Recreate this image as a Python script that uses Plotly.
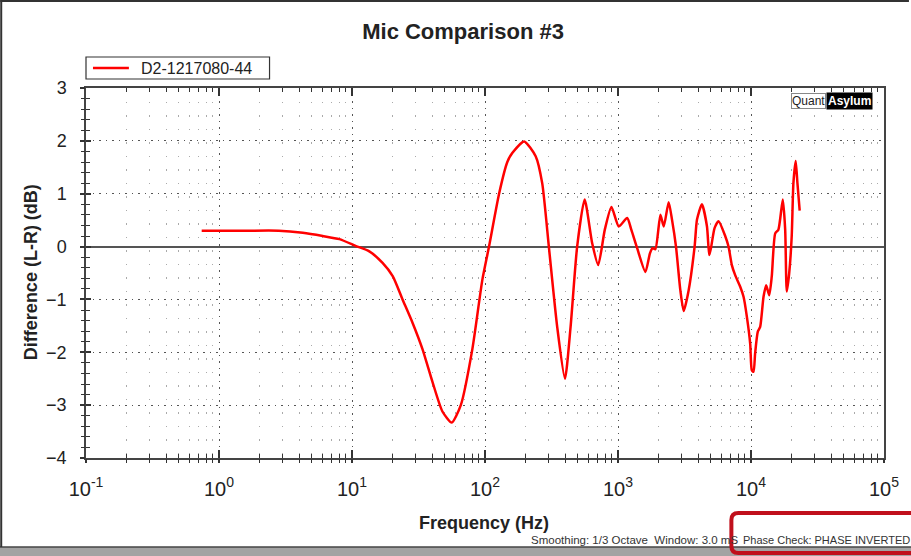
import plotly.graph_objects as go

# ---------------- data ----------------
freq_hz = [0.741, 1.585, 2.818, 4.266, 6.026, 8.04, 10.72, 13.49, 16.98, 20.23,
           23.99, 28.51, 33.88, 40.27, 47.86, 56.23, 65.77, 80.35, 95.5, 107.2,
           127.6, 147.2, 160.3, 196.8, 240.4, 269.2, 302, 349, 399, 440,
           493, 561, 640, 710, 796, 893, 1014, 1172, 1259, 1393,
           1607, 1738, 1820, 1910, 2084, 2208, 2404, 2547, 2729, 2944,
           3119, 3396, 3767, 3926, 4276, 4667, 4853, 5023, 5321, 5702,
           6397, 6776, 7178, 7603, 8299, 8790, 9311, 9863, 10140, 10450,
           10740, 11250, 11720, 12420, 13000, 13710, 14320, 15210, 16070, 17340,
           18070, 18580, 19360, 20230, 20840, 21680, 22340, 23230]
diff_db = [0.30, 0.30, 0.30, 0.26, 0.20, 0.14, 0.01, -0.09, -0.31, -0.56,
           -1.00, -1.44, -1.94, -2.56, -3.12, -3.33, -3.00, -1.94, -0.63, 0.00,
           1.00, 1.60, 1.77, 1.99, 1.71, 1.20, 0.00, -1.52, -2.50, -1.52,
           0.00, 0.89, 0.06, -0.35, 0.32, 0.75, 0.38, 0.54, 0.32, -0.03,
           -0.48, -0.13, -0.03, -0.05, 0.60, 0.38, 0.84, 0.51, 0.00, -0.83,
           -1.22, -0.83, 0.00, 0.51, 0.80, 0.38, -0.16, 0.00, 0.35, 0.48,
           0.20, 0.00, -0.35, -0.54, -0.76, -0.95, -1.33, -1.84, -2.34, -2.37,
           -2.02, -1.61, -1.52, -0.95, -0.73, -0.92, -0.57, 0.25, 0.32, 0.89,
           0.32, -0.85, -0.51, 0.19, 1.20, 1.62, 1.20, 0.68]

series_name = "D2-1217080-44"
x_tick_vals = [0.1, 1, 10, 100, 1000, 10000, 100000]
x_tick_text = ["10<sup>-1</sup>", "10<sup>0</sup>", "10<sup>1</sup>", "10<sup>2</sup>",
               "10<sup>3</sup>", "10<sup>4</sup>", "10<sup>5</sup>"]
x_minor_vals = [m * d for d in [0.1, 1, 10, 100, 1000, 10000] for m in range(2, 10)]
y_tick_vals = [3, 2, 1, 0, -1, -2, -3, -4]

FONT = "Arial, Liberation Sans, sans-serif"
RED = "#ff0000"

fig = go.Figure()
fig.add_trace(go.Scatter(
    x=freq_hz, y=diff_db, mode="lines", name=series_name, showlegend=False,
    line=dict(color=RED, width=2.5, shape="spline", smoothing=0.6),
))
# helper trace for the second (overlay) axes that carry the outside half of ticks
fig.add_trace(go.Scatter(x=[1], y=[0], xaxis="x2", yaxis="y2", mode="lines",
                         showlegend=False, hoverinfo="skip", line=dict(width=0)))

W, H = 911, 556
L, R, T, B = 86, 25, 88, 98
pw, ph = W - L - R, H - T - B


def px(xp):
    return (xp - L) / pw


def py(yp):
    return (H - B - yp) / ph


fig.update_layout(
    width=W, height=H,
    margin=dict(l=L, r=R, t=T, b=B),
    paper_bgcolor="white", plot_bgcolor="white",
    font=dict(family=FONT, color="#222"),
    title=dict(text="Mic Comparison #3", x=px(464), xref="paper", xanchor="center",
               y=1 - 31 / H, yanchor="middle",
               font=dict(family=FONT, size=22, color="#222", weight="bold")),
    showlegend=False,
    xaxis=dict(
        type="log", range=[-1, 5], showline=True, linecolor="#444", linewidth=1.5,
        mirror="ticks", ticks="inside", ticklen=8, tickwidth=1.5, tickcolor="#333",
        tickvals=x_tick_vals, ticktext=x_tick_text,
        tickfont=dict(family=FONT, size=20, color="#222"), ticklabelstandoff=12,
        showgrid=True, gridcolor="#555", gridwidth=1, griddash="1.5px,5px",
        minor=dict(tickmode="array", tickvals=x_minor_vals, ticks="inside", ticklen=4,
                   tickwidth=1, tickcolor="#333", showgrid=True, gridcolor="#aaa",
                   gridwidth=1, griddash="1.5px,12px"),
        zeroline=False,
    ),
    yaxis=dict(
        range=[-4, 3], showline=True, linecolor="#444", linewidth=1.5, mirror=True,
        ticks="inside", ticklen=5, tickwidth=1.5, tickcolor="#333",
        tickvals=y_tick_vals, tickfont=dict(family=FONT, size=18, color="#222"),
        ticklabelstandoff=14,
        showgrid=True, gridcolor="#555", gridwidth=1, griddash="1.5px,5px",
        minor=dict(dtick=0.2, ticks="inside", ticklen=4, tickwidth=1, tickcolor="#333",
                   showgrid=False),
        zeroline=True, zerolinecolor="#555", zerolinewidth=2,
    ),
    xaxis2=dict(
        type="log", range=[-1, 5], overlaying="x", anchor="y2", side="bottom",
        showline=False, ticks="outside", ticklen=4, tickwidth=1.5, tickcolor="#333",
        tickvals=x_tick_vals, showticklabels=False, showgrid=False, zeroline=False,
        minor=dict(tickmode="array", tickvals=x_minor_vals, ticks="outside", ticklen=4,
                   tickwidth=1, tickcolor="#333", showgrid=False),
    ),
    yaxis2=dict(
        range=[-4, 3], overlaying="y", anchor="x2", side="left",
        showline=False, ticks="outside", ticklen=5, tickwidth=1.5, tickcolor="#333",
        tickvals=y_tick_vals, showticklabels=False, showgrid=False, zeroline=False,
        minor=dict(dtick=0.2, ticks="outside", ticklen=4, tickwidth=1, tickcolor="#333",
                   showgrid=False),
    ),
)

ann = [
    dict(text="<b>Frequency (Hz)</b>", x=px(485), y=py(523), xref="paper", yref="paper",
         xanchor="center", yanchor="middle", showarrow=False,
         font=dict(family=FONT, size=18, color="#222")),
    dict(text="<b>Difference (L-R) (dB)</b>", x=px(31), y=py(272), xref="paper", yref="paper",
         xanchor="center", yanchor="middle", showarrow=False, textangle=-90,
         font=dict(family=FONT, size=18, color="#222")),
    dict(text=series_name, x=px(139), y=py(68.5), xref="paper", yref="paper",
         xanchor="left", yanchor="middle", showarrow=False,
         font=dict(family=FONT, size=16, color="#222")),
    dict(text="Smoothing: 1/3 Octave  Window: 3.0 mS", x=px(530), y=py(540),
         xref="paper", yref="paper", xanchor="left", yanchor="middle", showarrow=False,
         font=dict(family=FONT, size=11.5, color="#333")),
    dict(text="Phase Check: PHASE INVERTED", x=px(743), y=py(540),
         xref="paper", yref="paper", xanchor="left", yanchor="middle", showarrow=False,
         font=dict(family=FONT, size=11, color="#333")),
    dict(text="Quant", x=px(828), y=py(101), xref="paper", yref="paper",
         xanchor="right", yanchor="middle", showarrow=False, bgcolor="white",
         bordercolor="#888", borderwidth=1, borderpad=0,
         font=dict(family=FONT, size=12, color="#222")),
    dict(text="<b>Asylum</b>", x=px(828), y=py(101), xref="paper", yref="paper",
         xanchor="left", yanchor="middle", showarrow=False, bgcolor="black",
         borderpad=1, font=dict(family=FONT, size=12, color="white")),
]
fig.update_layout(annotations=ann)

# frame, legend box, bottom gray strip and red highlight box
x0, x1 = px(733), px(918)
y0, y1 = py(553), py(513)
rx, ry = 7 / pw, 7 / ph
rounded = (f"M {x0+rx},{y1} L {x1},{y1} L {x1},{y0} L {x0+rx},{y0} "
           f"Q {x0},{y0} {x0},{y0+ry} L {x0},{y1-ry} Q {x0},{y1} {x0+rx},{y1} Z")
shapes = [
    dict(type="rect", xref="paper", yref="paper", x0=px(86), x1=px(270),
         y0=py(79), y1=py(57), fillcolor="white", line=dict(color="#333", width=1.2)),
    dict(type="line", xref="paper", yref="paper", x0=px(93), x1=px(129),
         y0=py(68), y1=py(68), line=dict(color=RED, width=2.5)),
    dict(type="rect", xref="paper", yref="paper", x0=px(-5), x1=px(W + 5),
         y0=py(H + 5), y1=py(547), fillcolor="#a3a3a3", line=dict(width=0), layer="below"),
    dict(type="line", xref="paper", yref="paper", x0=px(-5), x1=px(W + 5),
         y0=py(547), y1=py(547), line=dict(color="#444", width=1.5)),
    dict(type="line", xref="paper", yref="paper", x0=px(1), x1=px(1),
         y0=py(0), y1=py(547), line=dict(color="#333", width=2)),
    dict(type="line", xref="paper", yref="paper", x0=px(0), x1=px(W),
         y0=py(1), y1=py(1), line=dict(color="#333", width=2)),
    dict(type="path", xref="paper", yref="paper", path=rounded,
         line=dict(color="#c0101c", width=4), fillcolor="rgba(0,0,0,0)"),
]
fig.update_layout(shapes=shapes)

fig.write_html("out.html", config={"displayModeBar": False},
               post_script="document.body.style.margin='0';document.body.style.overflow='hidden';")
